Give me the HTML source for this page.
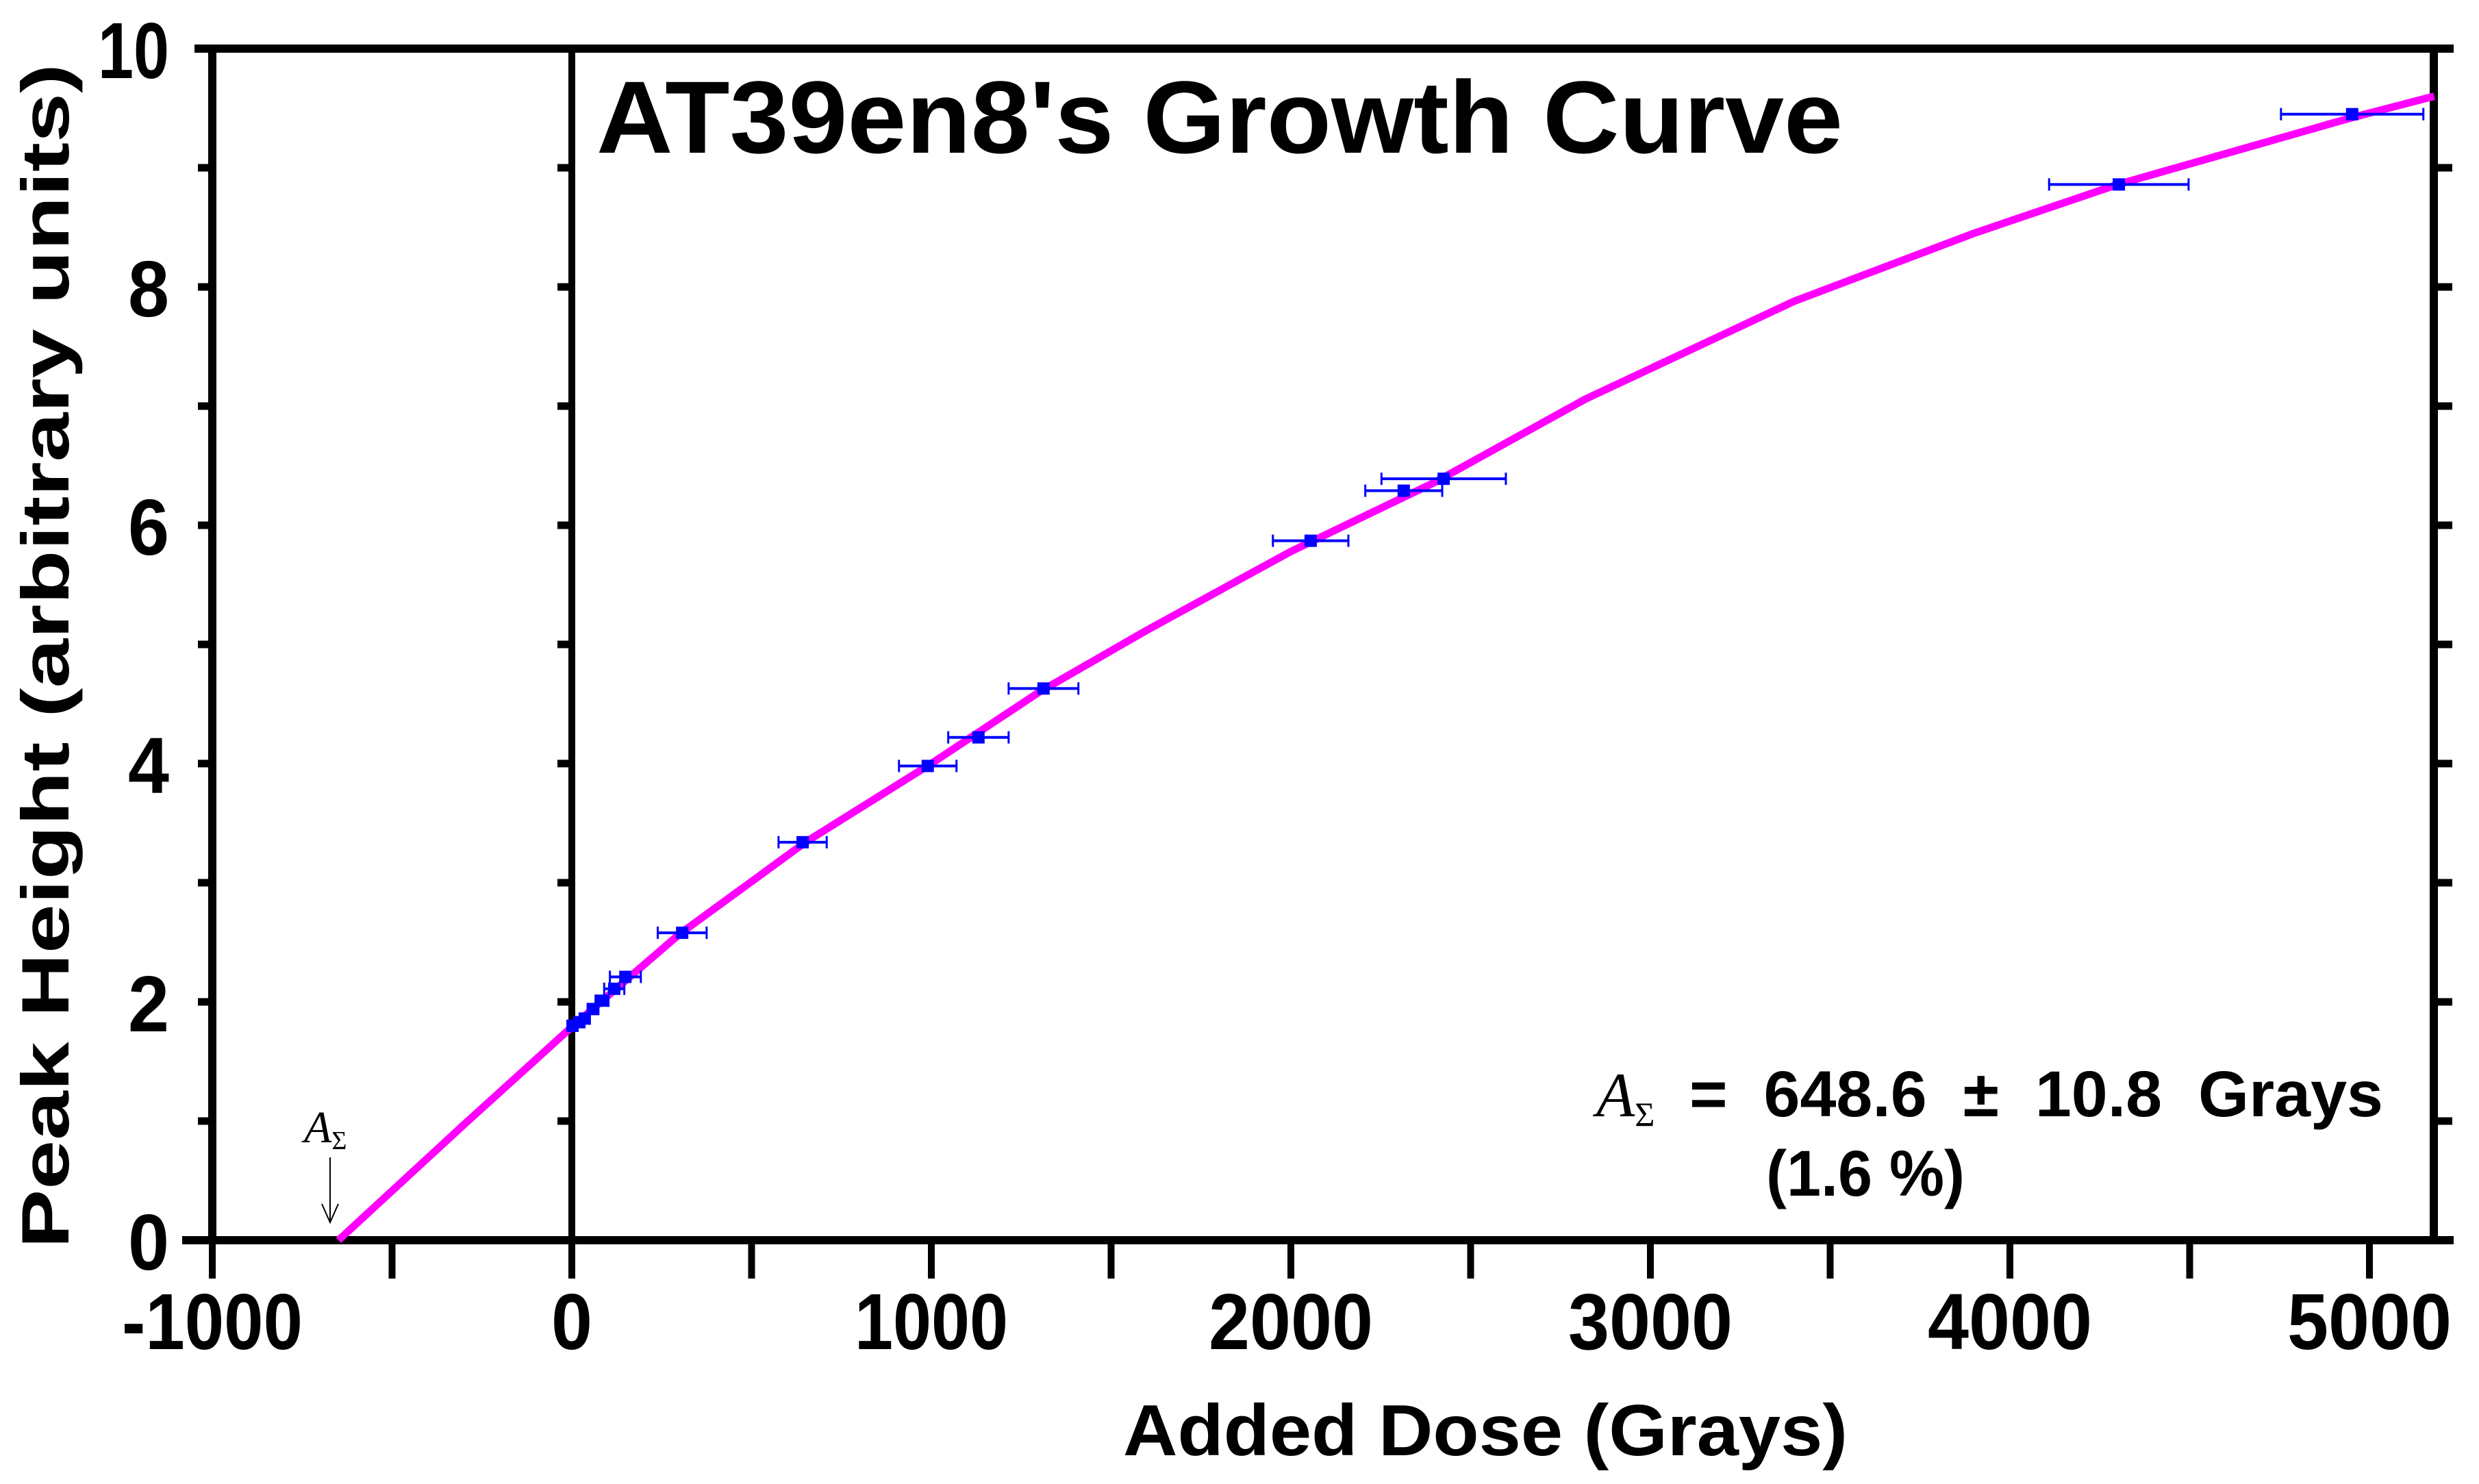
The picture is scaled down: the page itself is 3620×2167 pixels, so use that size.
<!DOCTYPE html>
<html><head><meta charset="utf-8"><style>
html,body{margin:0;padding:0;background:#fff;}
svg{display:block;}
text{font-family:"Liberation Sans",sans-serif;font-weight:bold;fill:#000;}
</style></head><body>
<svg id="chart" width="3620" height="2167" viewBox="0 0 3620 2167" xmlns="http://www.w3.org/2000/svg">
<rect x="0" y="0" width="3620" height="2167" fill="#fff"/>
<g id="grid"></g>
<text x="871" y="223" font-size="150" textLength="1820" lengthAdjust="spacingAndGlyphs">AT39en8's Growth Curve</text>
<text transform="translate(100,958) rotate(-90)" text-anchor="middle" font-size="98" textLength="1730" lengthAdjust="spacingAndGlyphs">Peak Height (arbitrary units)</text>
<text x="2169" y="2125" text-anchor="middle" font-size="106" textLength="1058" lengthAdjust="spacingAndGlyphs">Added Dose (Grays)</text>
<g>
<text x="2331" y="1630" font-size="92" font-style="italic" style="font-family:'Liberation Serif',serif;font-weight:normal">A<tspan font-size="50" dy="14" font-style="normal">Σ</tspan></text>
<text x="2467" y="1630" font-size="95" textLength="1013" lengthAdjust="spacingAndGlyphs" xml:space="preserve">=  648.6  ±  10.8  Grays</text>
<text x="2579" y="1746" font-size="95" textLength="290" lengthAdjust="spacingAndGlyphs">(1.6 %)</text>
</g>
<g>
<text x="444" y="1668" font-size="66" font-style="italic" style="font-family:'Liberation Serif',serif;font-weight:normal">A<tspan font-size="38" dy="10" font-style="normal">Σ</tspan></text>
<line x1="482" y1="1690" x2="482" y2="1785" stroke="#000" stroke-width="2"/>
<polyline points="470,1758 482,1785 494,1758" fill="none" stroke="#000" stroke-width="2"/>
</g>
<g id="marks"></g>
</svg>
<script>
const curveDose = [-649,-300,0,300,650,1000,1300,1600,2000,2400,2820,3400,3900,4300,4950,5180];
const curveHeight = [0,0.97,1.79,2.57,3.34,4.0,4.6,5.12,5.78,6.36,7.06,7.88,8.45,8.86,9.42,9.6];
const pointDose = [2,21,36,59,84,118,149,307,642,990,1131,1312,2055,2314,2425,4303,4952];
const pointHeight = [1.80,1.83,1.86,1.94,2.01,2.11,2.21,2.58,3.34,3.98,4.22,4.63,5.87,6.29,6.39,8.86,9.45];
const pointDoseErr = [10,10,12,15,18,28,43,68,67,80,84,97,105,107,173,194,198];
const xTickValues = [-1000,0,1000,2000,3000,4000,5000];
const xTickLabels = ["-1000","0","1000","2000","3000","4000","5000"];
const yTickValues = [0,2,4,6,8,10];
const yTickLabels = ["0","2","4","6","8","10"];

const NS = "http://www.w3.org/2000/svg";
const X0 = 310, X1 = 3554, Y0 = 1811, Y1 = 71;
function sx(v){ return 835 + v * 0.525; }
function sy(v){ return 1811 - v * 174; }
function mk(tag, attrs, parent){
  const e = document.createElementNS(NS, tag);
  for (const k in attrs) e.setAttribute(k, attrs[k]);
  parent.appendChild(e);
  return e;
}
function labelLen(s){
  let w = 0;
  for (const c of s) w += (c === '-') ? 40 : (c === '1' ? 44 : 60);
  return w;
}
const grid = document.getElementById('grid');
const marks = document.getElementById('marks');

let f;
f = mk('line',{x1:284,y1:Y1,x2:3583,y2:Y1,stroke:'#000','stroke-width':12},grid);


f = mk('line',{x1:266,y1:Y0,x2:3583,y2:Y0,stroke:'#000','stroke-width':12},grid);


f = mk('line',{x1:X0,y1:Y1,x2:X0,y2:Y0+6,stroke:'#000','stroke-width':12},grid);


f = mk('line',{x1:X1,y1:Y1,x2:X1,y2:Y0,stroke:'#000','stroke-width':12},grid);


f = mk('line',{x1:sx(0),y1:Y1,x2:sx(0),y2:Y0,stroke:'#000','stroke-width':10},grid);



for (let v = -1000; v <= 5000; v += 500) {
  const t = mk('line',{x1:sx(v),y1:Y0,x2:sx(v),y2:Y0+56,stroke:'#000','stroke-width':10},grid);
  
  
}
xTickValues.forEach((v,i)=>{
  const t = mk('text',{x:sx(v),y:1970,'text-anchor':'middle','font-size':116,textLength:labelLen(xTickLabels[i]),lengthAdjust:'spacingAndGlyphs'},grid);
  t.textContent = xTickLabels[i];
  
  
});
for (let v = 0; v <= 10; v += 1) {
  const y = sy(v);
  [[X0-21,X0],[sx(0)-21,sx(0)],[X1,X1+27]].forEach(p=>{
    const t = mk('line',{x1:p[0],y1:y,x2:p[1],y2:y,stroke:'#000','stroke-width':11},grid);
    
    
  });
}
yTickValues.forEach((v,i)=>{
  const t = mk('text',{x:247,y:sy(v)+43,'text-anchor':'end','font-size':116,textLength:labelLen(yTickLabels[i]),lengthAdjust:'spacingAndGlyphs'},grid);
  t.textContent = yTickLabels[i];
  
  
});

const pts = curveDose.map((d,i)=>sx(d)+','+sy(curveHeight[i])).join(' ');
const curve = mk('polyline',{points:pts,fill:'none',stroke:'#ff00ff','stroke-width':11,'stroke-linejoin':'round'},marks);



pointDose.forEach((d,i)=>{
  const cx = sx(d), cy = sy(pointHeight[i]);
  const xl = sx(d - pointDoseErr[i]), xr = sx(d + pointDoseErr[i]);
  const g = mk('g',{},marks);
  
  
  mk('line',{x1:xl,y1:cy,x2:xr,y2:cy,stroke:'#0000ff','stroke-width':4},g);
  mk('line',{x1:xl,y1:cy-9,x2:xl,y2:cy+9,stroke:'#0000ff','stroke-width':3},g);
  mk('line',{x1:xr,y1:cy-9,x2:xr,y2:cy+9,stroke:'#0000ff','stroke-width':3},g);
  mk('rect',{x:cx-9,y:cy-9,width:18,height:18,fill:'#0000ff'},g);
});
</script>
</body></html>
